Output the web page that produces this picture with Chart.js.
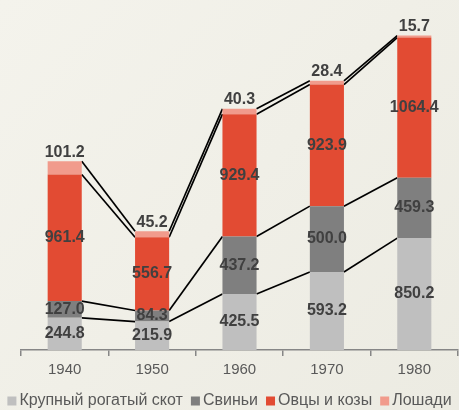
<!DOCTYPE html>
<html>
<head>
<meta charset="utf-8">
<script src="https://cdn.jsdelivr.net/npm/chart.js@4.4.0/dist/chart.umd.min.js"></script>
<style>
  html, body { margin: 0; padding: 0; background: #efeee6; }
  #wrap { width: 459px; height: 410px; }
</style>
</head>
<body>
<div id="wrap"><canvas id="chart" width="459" height="410"></canvas></div>
<script>
const years = ["1940", "1950", "1960", "1970", "1980"];
const cattle = [244.8, 215.9, 425.5, 593.2, 850.2];
const pigs = [127.0, 84.3, 437.2, 500.0, 459.3];
const sheep = [961.4, 556.7, 929.4, 923.9, 1064.4];
const horses = [101.2, 45.2, 40.3, 28.4, 15.7];

const seriesNames = ["Крупный рогатый скот", "Свиньи", "Овцы и козы", "Лошади"];
const seriesColors = ["#bfbfbf", "#7f7f7f", "#e24b33", "#f19b8c"];

const FONT = "'Liberation Sans', Arial, sans-serif";

// background
const bgPlugin = {
  id: "bg",
  beforeDraw(chart) {
    const c = chart.ctx;
    const g = c.createLinearGradient(0, 0, chart.width, chart.height);
    g.addColorStop(0, "#f4f3ec");
    g.addColorStop(1, "#ecebe2");
    c.save();
    c.fillStyle = g;
    c.fillRect(0, 0, chart.width, chart.height);
    c.restore();
  }
};

// series lines between stack segments
const seriesLines = {
  id: "seriesLines",
  beforeDatasetsDraw(chart) {
    const c = chart.ctx;
    c.save();
    c.strokeStyle = "#000";
    c.lineWidth = 1.7;
    chart.data.datasets.forEach((ds, di) => {
      const bars = chart.getDatasetMeta(di).data;
      for (let i = 0; i < bars.length - 1; i++) {
        const a = bars[i], b = bars[i + 1];
        c.beginPath();
        c.moveTo(a.x + a.width / 2, a.y);
        c.lineTo(b.x - b.width / 2, b.y);
        c.stroke();
      }
    });
    c.restore();
  }
};

// value labels
const valueLabels = {
  id: "valueLabels",
  afterDatasetsDraw(chart) {
    const c = chart.ctx;
    c.save();
    c.font = "bold 16px " + FONT;
    c.fillStyle = "#404040";
    c.textAlign = "center";
    const last = chart.data.datasets.length - 1;
    chart.data.datasets.forEach((ds, di) => {
      chart.getDatasetMeta(di).data.forEach((bar, i) => {
        const txt = ds.data[i].toFixed(1);
        if (di === last) {
          c.textBaseline = "bottom";
          c.fillText(txt, bar.x, bar.y - 1);
        } else {
          c.textBaseline = "middle";
          c.fillText(txt, bar.x, (bar.y + bar.base) / 2);
        }
      });
    });
    c.restore();
  }
};

// compact legend at the bottom
const bottomLegend = {
  id: "bottomLegend",
  afterDraw(chart) {
    const c = chart.ctx;
    c.save();
    c.font = "16px " + FONT;
    c.textBaseline = "middle";
    c.textAlign = "left";
    const box = 9, gap = 3, sep = 8;
    const items = chart.data.datasets.map(ds => ({
      text: ds.label, color: ds.backgroundColor, w: c.measureText(ds.label).width
    }));
    const total = items.reduce((s, it) => s + box + gap + it.w, 0) + sep * (items.length - 1);
    let x = (chart.width - total) / 2;
    const y = 401;
    items.forEach(it => {
      c.fillStyle = it.color;
      c.fillRect(x, y - box / 2, box, box);
      x += box + gap;
      c.fillStyle = "#595959";
      c.fillText(it.text, x, y);
      x += it.w + sep;
    });
    c.restore();
  }
};

const dataArrays = [cattle, pigs, sheep, horses];

new Chart(document.getElementById("chart"), {
  type: "bar",
  data: {
    labels: years,
    datasets: dataArrays.map((d, i) => ({
      label: seriesNames[i],
      data: d,
      backgroundColor: seriesColors[i],
      borderWidth: 0,
      categoryPercentage: 1,
      barPercentage: 0.39
    }))
  },
  options: {
    responsive: false,
    animation: false,
    layout: { padding: { left: 21, right: 1, top: 21, bottom: 26 } },
    plugins: {
      legend: { display: false },
      tooltip: { enabled: false }
    },
    scales: {
      x: {
        stacked: true,
        border: { color: "#868686", width: 1.5 },
        grid: { offset: true, drawOnChartArea: false, drawTicks: true, tickLength: 6, color: "#868686", lineWidth: 1.5 },
        ticks: {
          color: "#595959",
          padding: 5,
          font: { family: FONT, size: 15 }
        }
      },
      y: {
        stacked: true,
        display: false,
        min: 0,
        max: 2500
      }
    }
  },
  plugins: [bgPlugin, seriesLines, valueLabels, bottomLegend]
});
</script>
</body>
</html>
